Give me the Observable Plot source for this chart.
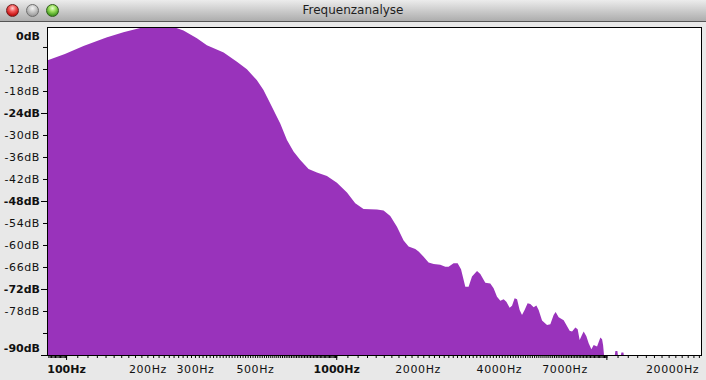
<!DOCTYPE html>
<html>
<head>
<meta charset="utf-8">
<script src="https://cdn.jsdelivr.net/npm/d3@7"></script>
<script src="https://cdn.jsdelivr.net/npm/@observablehq/plot@0.6"></script>
<style>
  html, body { margin: 0; padding: 0; }
  body { width: 706px; height: 380px; background: #e8e8e8; overflow: hidden; font-family: "DejaVu Sans", sans-serif; }
  .titlebar { position: relative; height: 21px; border-bottom: 1px solid #555; background: linear-gradient(#ececec, #c9c9c9 55%, #adadad); }
  .titlebar .t { position: absolute; left: 0; right: 0; top: 4px; text-align: center; font-size: 12px; color: #1e1e1e; line-height: 13px; }
  .btn { position: absolute; top: 4px; width: 13px; height: 13px; border-radius: 50%; box-sizing: border-box; }
  .red { left: 5.5px; background: radial-gradient(circle at 50% 30%, #ffd0d0 0, #f25a5a 35%, #c91818 70%, #8c0c0c 100%); border: 1px solid #6d1f1f; }
  .grey { left: 25.5px; background: radial-gradient(circle at 50% 30%, #f4f4f4 0, #c7c7c7 40%, #9a9a9a 80%, #7c7c7c 100%); border: 1px solid #6f6f6f; }
  .green { left: 45.5px; background: radial-gradient(circle at 50% 30%, #e6ffd0 0, #9ade5c 35%, #4fa327 70%, #2d6a12 100%); border: 1px solid #2f5d1c; }
  #chart svg { display: block; }
  #chart g.lbl-normal text { letter-spacing: 0.6px; }
</style>
</head>
<body>
<div class="titlebar">
  <div class="btn red"></div><div class="btn grey"></div><div class="btn green"></div>
  <div class="t">Frequenzanalyse</div>
</div>
<div id="chart"></div>
<script>
// Spectrum: frequency (Hz) and level (dB)
const freqHz = [85, 99, 116, 141, 163, 188, 205, 250, 272, 305, 332, 383, 429, 467, 508, 538, 570, 603, 620, 657, 695, 736, 790, 848, 924, 1006, 1096, 1176, 1262, 1415, 1497, 1585, 1678, 1776, 1853, 1962, 2018, 2106, 2197, 2294, 2428, 2533, 2605, 2719, 2814, 2897, 3005, 3090, 3181, 3320, 3415, 3563, 3718, 3824, 3937, 4050, 4166, 4263, 4385, 4474, 4575, 4670, 4775, 4872, 4981, 5110, 5230, 5379, 5505, 5614, 5779, 6030, 6202, 6379, 6489, 6659, 6949, 7111, 7313, 7464, 7677, 7829, 7963, 8128, 8240, 8432, 8599, 8800, 8975, 9237, 9501, 9640, 9723, 9831, 10700, 10798, 10983, 11075, 11270, 11364, 11561, 11659, 22400];
const levelDb = [-9.7, -7.9, -5.7, -3.4, -2.0, -0.8, -0.55, -0.55, -1.5, -3.6, -5.5, -7.5, -10.0, -12.1, -15.0, -17.7, -21.4, -25.0, -26.8, -31.4, -34.5, -36.8, -39.3, -40.2, -41.2, -43.0, -45.7, -48.6, -50.2, -50.3, -50.6, -52.1, -55.0, -58.8, -60.4, -61.1, -61.8, -63.2, -64.8, -65.2, -65.4, -65.9, -65.9, -65.0, -65.0, -66.6, -71.4, -71.4, -68.6, -67.1, -67.9, -70.3, -70.5, -71.8, -74.1, -75.2, -74.8, -75.5, -77.1, -76.6, -74.5, -74.8, -77.7, -79.1, -77.7, -75.9, -76.1, -77.0, -76.5, -77.7, -80.6, -81.8, -81.6, -79.1, -78.3, -79.7, -80.5, -81.8, -83.4, -83.6, -82.5, -83.0, -85.9, -84.5, -83.6, -84.9, -86.8, -88.4, -87.3, -87.7, -85.2, -85.7, -87.3, -91, -91, -88.9, -88.9, -91, -91, -89.3, -89.3, -91, -91];

// Axis values
const floorDb = -90;
const topDb = -0.55;
const freqMin = 85, freqMax = 22400;
const dbMinorTicks = [-6, -12, -18, -30, -36, -42, -54, -60, -66, -78, -84];
const dbMajorTicks = [-24, -48, -72, -90];
const dbLabels = [-12, -18, -30, -36, -42, -54, -60, -66, -78];
const dbBoldLabels = [-24, -48, -72];
const dbEdgeTop = ["0dB"];
const dbEdgeBottom = ["-90dB"];
const hzLabels = [200, 300, 500, 2000, 4000, 7000];
const hzBoldLabels = [100, 1000];
const hzEdgeLabel = [20000];

// Audacity-style dense frequency ruler ticks
const hzMinorTicks = [];
for (let f = 86; f < 100; f += 1) hzMinorTicks.push(f);
for (let f = 100; f < 1000; f += 10) hzMinorTicks.push(f);
for (let f = 1000; f < 10000; f += 100) hzMinorTicks.push(f);
for (let f = 10000; f <= 22000; f += 1000) hzMinorTicks.push(f);
const hzMajorTicks = [100, 1000, 10000];

const spectrum = freqHz.map((f, i) => ({f, db: levelDb[i], base: floorDb}));

const font = "DejaVu Sans";
const ink = "#111";

const chart = Plot.plot({
  width: 706,
  height: 358,
  marginLeft: 47,
  marginRight: 5,
  marginTop: 5,
  marginBottom: 25,
  style: {background: "transparent", fontFamily: font, fontSize: "11px", color: "black"},
  x: {type: "log", domain: [freqMin, freqMax]},
  y: {domain: [floorDb, topDb]},
  marks: [
    Plot.frame({fill: "white"}),
    Plot.areaY(spectrum, {x: "f", y1: "base", y2: "db", fill: "#9933bb", clip: true}),
    Plot.frame({stroke: "black"}),
    // y ticks and labels
    Plot.axisY(dbMinorTicks, {anchor: "left", tickSize: 4, tickFormat: () => "", label: null, stroke: "black"}),
    Plot.axisY(dbMajorTicks, {anchor: "left", tickSize: 6, tickFormat: () => "", label: null, stroke: "black"}),
    Plot.text(dbLabels, {y: d => d, frameAnchor: "left", dx: -7.5, text: d => `${d}dB`, textAnchor: "end", lineAnchor: "middle", fontSize: 11, fill: ink, className: "lbl-normal"}),
    Plot.text(dbBoldLabels, {y: d => d, frameAnchor: "left", dx: -7.5, text: d => `${d}dB`, textAnchor: "end", lineAnchor: "middle", fontSize: 11, fontWeight: "bold", fill: ink}),
    Plot.text(dbEdgeTop, {frameAnchor: "top-left", dx: -7.5, dy: 8.5, text: d => d, textAnchor: "end", lineAnchor: "middle", fontWeight: "bold", fontSize: 11, fill: ink}),
    Plot.text(dbEdgeBottom, {frameAnchor: "bottom-left", dx: -7.5, dy: -7.5, text: d => d, textAnchor: "end", lineAnchor: "middle", fontWeight: "bold", fontSize: 11, fill: ink}),
    // x ticks and labels
    Plot.axisX(hzMinorTicks, {anchor: "bottom", tickSize: 3, tickFormat: () => "", label: null, stroke: "black"}),
    Plot.axisX(hzMajorTicks, {anchor: "bottom", tickSize: 5, tickFormat: () => "", label: null, stroke: "black"}),
    Plot.text(hzLabels, {x: d => d, frameAnchor: "bottom", dy: 14, text: d => `${d}Hz`, lineAnchor: "middle", fontSize: 11, fill: ink, className: "lbl-normal"}),
    Plot.text(hzBoldLabels, {x: d => d, frameAnchor: "bottom", dy: 14, text: d => `${d}Hz`, lineAnchor: "middle", fontSize: 11, fontWeight: "bold", fill: ink}),
    Plot.text(hzEdgeLabel, {x: d => d, frameAnchor: "bottom", dy: 14, dx: 11, textAnchor: "end", lineAnchor: "middle", text: d => `${d}Hz`, fontSize: 11, fill: ink, className: "lbl-normal"})
  ]
});
document.getElementById("chart").appendChild(chart);
</script>
</body>
</html>
